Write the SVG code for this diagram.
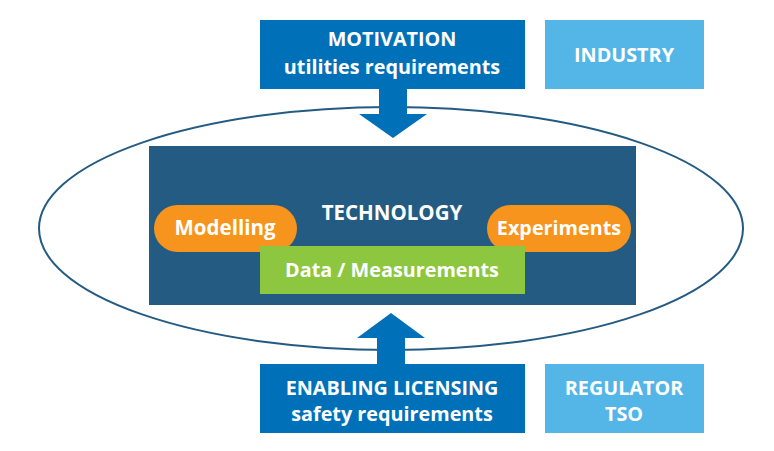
<svg xmlns="http://www.w3.org/2000/svg" width="774" height="451" viewBox="0 0 774 451">
<style>
text{font-family:"Open Sans","Liberation Sans",sans-serif;font-weight:bold;fill:#fff;text-anchor:middle;font-size:19.8px}
.blue{fill:#0071b9}
.light{fill:#53b6e7}
.pill{fill:#f7941e}
</style>
<rect width="774" height="451" fill="#fff"/>
<ellipse cx="391" cy="228.5" rx="352" ry="121.5" fill="none" stroke="#245b82" stroke-width="2"/>
<g id="technology">
<rect x="149" y="146" width="487" height="159" fill="#245b82"/>
<text x="392" y="220" style="font-size:20.5px">TECHNOLOGY</text>
</g>
<g id="modelling">
<rect class="pill" x="154" y="205" width="143" height="47" rx="23.5"/>
<text x="225" y="235" style="font-size:20.5px">Modelling</text>
</g>
<g id="experiments">
<rect class="pill" x="487" y="205" width="144" height="47" rx="23.5"/>
<text x="559" y="235">Experiments</text>
</g>
<g id="data">
<rect x="260" y="246" width="265" height="48" fill="#8dc63f"/>
<text x="392" y="277">Data / Measurements</text>
</g>
<g id="connectors">
<polygon class="blue" points="379,89 407,89 407,114 427,114 393,138 359,114 379,114"/>
<polygon class="blue" points="377,364 405,364 405,338 425,338 391,313 357,338 377,338"/>
</g>
<g id="motivation">
<rect class="blue" x="260" y="20" width="265" height="69"/>
<text x="392" y="46">MOTIVATION</text>
<text x="392" y="74">utilities requirements</text>
</g>
<g id="industry">
<rect class="light" x="545" y="20" width="159" height="69"/>
<text x="624" y="62">INDUSTRY</text>
</g>
<g id="licensing">
<rect class="blue" x="260" y="364" width="265" height="69"/>
<text x="392" y="395">ENABLING LICENSING</text>
<text x="392" y="421">safety requirements</text>
</g>
<g id="regulator">
<rect class="light" x="545" y="364" width="159" height="69"/>
<text x="624" y="395">REGULATOR</text>
<text x="624" y="421">TSO</text>
</g>
</svg>
